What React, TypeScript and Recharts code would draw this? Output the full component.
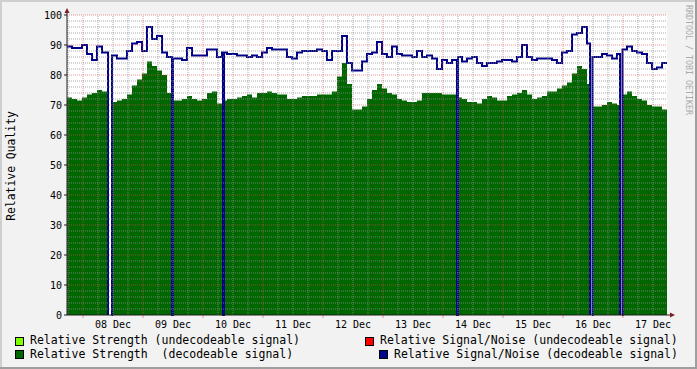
import React from 'react';
import { ComposedChart, Area, Line, XAxis, YAxis, ReferenceLine, CartesianGrid } from 'recharts';

// ---- time axis (hours since chart start, 07 Dec 05:36) ----
const SLOT_HOURS = 2;
const RANGE_HOURS = 240;
const dayLabels = ['08 Dec', '09 Dec', '10 Dec', '11 Dec', '12 Dec', '13 Dec', '14 Dec', '15 Dec', '16 Dec', '17 Dec'];
const dayTicks = [18.4, 42.4, 66.4, 90.4, 114.4, 138.4, 162.4, 186.4, 210.4, 234.4];
const majorTimeGrid = [6.4, 30.4, 54.4, 78.4, 102.4, 126.4, 150.4, 174.4, 198.4, 222.4];
const minorTimeGrid = [0.4, 12.4, 18.4, 24.4, 36.4, 42.4, 48.4, 60.4, 66.4, 72.4, 84.4, 90.4, 96.4, 108.4, 114.4, 120.4, 132.4, 138.4, 144.4, 156.4, 162.4, 168.4, 180.4, 186.4, 192.4, 204.4, 210.4, 216.4, 228.4, 234.4];
const valueTicks = [0, 10, 20, 30, 40, 50, 60, 70, 80, 90, 100];
const minorValueGrid = [2, 4, 6, 8, 12, 14, 16, 18, 22, 24, 26, 28, 32, 34, 36, 38, 42, 44, 46, 48, 52, 54, 56, 58, 62, 64, 66, 68, 72, 74, 76, 78, 82, 84, 86, 88, 92, 94, 96, 98];
const majorValueGrid = [10, 20, 30, 40, 50, 60, 70, 80, 90, 100];

// Relative Strength (decodeable signal), one value per 2-hour slot
const strength = [
  72.5, 72, 71.5, 72.5, 73.5, 74, 75, 74.5, 74.5, 71,
  71.5, 72, 73.5, 76.5, 78.5, 80.5, 84.5, 83, 81.5, 80,
  74, 71.5, 71.5, 72, 73, 72, 71.5, 72, 74, 74.5,
  70.5, 71.5, 72, 72, 72.5, 73, 73.5, 72.5, 74, 74,
  74.5, 74, 73.5, 73.5, 72, 72, 72.5, 73, 73, 73,
  73.5, 73.5, 73.5, 74.5, 79.5, 84, 77, 68.5, 68.5, 69.5,
  72, 75, 77, 75.5, 74, 73.5, 72, 71.5, 71, 71,
  71.5, 74, 74, 74, 74, 73.5, 73.5, 73.5, 72.5, 72,
  71, 71, 70.5, 72, 73, 72.5, 71.5, 71.5, 73, 73.5,
  74, 75, 73.5, 72, 72.5, 73, 74.5, 74.5, 75.5, 76.5,
  77.5, 80.5, 83, 82, 77, 69.5, 69.5, 70, 71, 70.5,
  70, 73.5, 74.5, 73, 72, 71.5, 70, 69.5, 69.5, 68.5,
];

// Relative Signal/Noise (decodeable signal)
const snr = [
  89.5, 89, 89, 90, 87, 85, 89.5, 87.5, 87.5, 86.5,
  85.5, 85.5, 88, 90.5, 91, 88, 96, 92, 93, 87.5,
  86, 85.5, 85.5, 85, 89, 86.5, 86.5, 86.5, 88.5, 88.5,
  86, 87.5, 87, 87, 86.5, 86.5, 86, 86.5, 86, 87.5,
  89, 88.5, 88.5, 88.5, 86, 85.5, 87.5, 88, 88, 88,
  88.5, 88, 85, 88, 88, 93, 84, 81.5, 81.5, 84.5,
  87, 87.5, 91, 87, 86, 89.5, 87, 86.5, 86.5, 86,
  88, 86, 86.5, 85.5, 82, 85, 84, 85, 86, 84.5,
  85.5, 86, 84, 83, 84, 84, 84.5, 85, 85, 84.5,
  86, 90, 86, 85, 85.5, 85.5, 85.5, 85, 84, 87.5,
  88, 93.5, 94, 96, 90.5, 86, 86, 87, 86.5, 85.5,
  87, 88.5, 89.5, 88, 87.5, 87, 84, 82, 82.5, 84,
];

// receiver outages [start hour, end hour]
const outages: [number, number][] = [[16.4, 18], [42, 42.4], [62.4, 62.8], [156, 156.4], [209.2, 210.2], [221.2, 222.2]];

type Pt = { t: number; s: number | null; n: number | null };
function buildData(): Pt[] {
  let pts: Pt[] = strength.map((s, i) => ({ t: i * SLOT_HOURS, s, n: snr[i] }));
  pts.push({ t: RANGE_HOURS, s: strength[strength.length - 1], n: snr[snr.length - 1] });
  for (const [a, b] of outages) {
    pts = pts.filter((p) => p.t < a || p.t >= b);
    const k = Math.min(Math.floor(b / SLOT_HOURS), strength.length - 1);
    pts.push({ t: a, s: 0, n: 0 });
    if (b - a > 0.6) {
      pts.push({ t: a + 0.2, s: null, n: null });
      pts.push({ t: b - 0.2, s: 0, n: 0 });
    }
    if (!pts.some((p) => p.t === b)) pts.push({ t: b, s: strength[k], n: snr[k] });
  }
  return pts.sort((p, q) => p.t - q.t);
}
const data = buildData();

const FONT = '"DejaVu Sans Mono", monospace';
const GRID_MINOR = 'rgba(143,143,143,0.75)';
const GRID_MAJOR = 'rgba(222,79,79,0.6)';
const AXIS = '#1f1f1f';
const ARROW = '#801f1f';
const GREEN = '#006600';
const NAVY = '#000088';

export default function App() {
  return (
    <div style={{ position: 'absolute', left: 0, top: 0, width: 697, height: 369, background: '#f2f2f2', overflow: 'hidden' }}>
      <ComposedChart width={697} height={369} data={data} margin={{ top: 15, right: 30, bottom: 24, left: 0 }}>
        <CartesianGrid fill="#ffffff" horizontal={false} vertical={false} stroke="none" />
        <XAxis
          dataKey="t"
          type="number"
          domain={[0, RANGE_HOURS]}
          ticks={dayTicks}
          interval={0}
          allowDataOverflow
          tickFormatter={(v: number) => dayLabels[dayTicks.indexOf(v)] ?? ''}
          tickLine={false}
          tickSize={4}
          tickMargin={2}
          height={30}
          axisLine={{ stroke: AXIS }}
          tick={{ fontFamily: FONT, fontSize: 10, fill: '#000' }}
        />
        <YAxis
          type="number"
          domain={[0, 100]}
          ticks={valueTicks}
          interval={0}
          width={67}
          tickSize={3}
          tickMargin={2}
          axisLine={{ stroke: AXIS }}
          tickLine={{ stroke: AXIS }}
          tick={{ fontFamily: FONT, fontSize: 10, fill: '#000' }}
        />
        <Area type="stepAfter" dataKey="s" fill={GREEN} fillOpacity={1} stroke="none" isAnimationActive={false} connectNulls={false} />
        <Line type="stepAfter" dataKey="n" stroke={NAVY} strokeWidth={2} dot={false} isAnimationActive={false} connectNulls={false} />
        {minorValueGrid.map((v) => (
          <ReferenceLine key={'hv' + v} y={v} stroke={GRID_MINOR} strokeDasharray="1 1" />
        ))}
        {minorTimeGrid.map((t) => (
          <ReferenceLine key={'vt' + t} x={t} stroke={GRID_MINOR} strokeDasharray="1 1" />
        ))}
        {majorValueGrid.map((v) => (
          <ReferenceLine key={'HV' + v} y={v} stroke={GRID_MAJOR} strokeDasharray="1 1" />
        ))}
        {majorTimeGrid.map((t) => (
          <ReferenceLine key={'VT' + t} x={t} stroke={GRID_MAJOR} strokeDasharray="1 1" />
        ))}
        {majorTimeGrid.map((t) => (
          <ReferenceLine key={'tk' + t} segment={[{ x: t, y: 0 }, { x: t, y: -1 }]} stroke={GRID_MAJOR} ifOverflow="visible" />
        ))}
      </ComposedChart>
      <svg width={697} height={369} style={{ position: 'absolute', left: 0, top: 0, pointerEvents: 'none' }}>
        {/* axis arrows */}
        <line x1={67} y1={15} x2={67} y2={12} stroke={AXIS} />
        <polygon points="64.5,13 69.5,13 67,8" fill={ARROW} />
        <line x1={667} y1={315} x2={671} y2={315} stroke={AXIS} />
        <polygon points="670,312.5 670,317.5 675,315" fill={ARROW} />
        {/* y title */}
        <text x={11} y={166} transform="rotate(-90 11 166)" textAnchor="middle" dominantBaseline="central" fontFamily={FONT} fontSize={11.4} fill="#000">
          Relative Quality
        </text>
        {/* watermark */}
        <text x={689} y={60} transform="rotate(90 689 60)" textAnchor="middle" dominantBaseline="central" fontFamily={FONT} fontSize={8.3} fill="#aaaaaa">
          RRDTOOL / TOBI OETIKER
        </text>
        {/* legend */}
        <rect x={15.5} y={337.5} width={8} height={8} fill="#80ff00" stroke="#000" />
        <text x={30} y={344} fontFamily={FONT} fontSize={11.5} fill="#000" style={{ whiteSpace: 'pre' }}>Relative Strength (undecodeable signal)</text>
        <rect x={365.5} y={337.5} width={8} height={8} fill="#ff0000" stroke="#000" />
        <text x={380} y={344} fontFamily={FONT} fontSize={11.5} fill="#000" style={{ whiteSpace: 'pre' }}>Relative Signal/Noise (undecodeable signal)</text>
        <rect x={15.5} y={350.5} width={8} height={8} fill={GREEN} stroke="#000" />
        <text x={30} y={358} fontFamily={FONT} fontSize={11.5} fill="#000" style={{ whiteSpace: 'pre' }}>Relative Strength  (decodeable signal)</text>
        <rect x={379.5} y={350.5} width={8} height={8} fill={NAVY} stroke="#000" />
        <text x={394} y={358} fontFamily={FONT} fontSize={11.5} fill="#000" style={{ whiteSpace: 'pre' }}>Relative Signal/Noise (decodeable signal)</text>
        {/* frame shading */}
        <line x1={0} y1={1} x2={697} y2={1} stroke="#cfcfcf" strokeWidth={2} />
        <line x1={1} y1={0} x2={1} y2={369} stroke="#cfcfcf" strokeWidth={2} />
        <line x1={0} y1={368} x2={697} y2={368} stroke="#9e9e9e" strokeWidth={2} />
        <line x1={696} y1={0} x2={696} y2={369} stroke="#9e9e9e" strokeWidth={2} />
      </svg>
    </div>
  );
}
